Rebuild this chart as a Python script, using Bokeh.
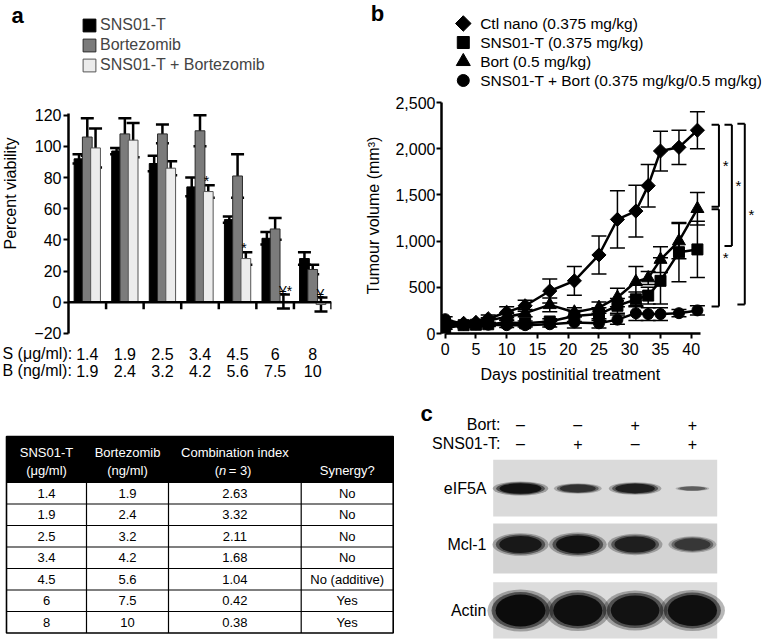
import math
import numpy as np
from bokeh.plotting import figure
from bokeh.models import (Range1d, FixedTicker, Span, Whisker, TeeHead, ColumnDataSource,
                          Legend, LegendItem, Title, NumeralTickFormatter)
from bokeh.layouts import column, row
from bokeh.core.properties import value
from bokeh.embed import file_html
from bokeh.resources import INLINE

FONT = "Liberation Sans"

# ---------------- Panel a data ----------------
s_conc = ["1.4", "1.9", "2.5", "3.4", "4.5", "6", "8"]
b_conc = ["1.9", "2.4", "3.2", "4.2", "5.6", "7.5", "10"]
bar_series = ["SNS01-T", "Bortezomib", "SNS01-T + Bortezomib"]
via_sns_mean = [92, 97, 89, 74, 53, 41, 28]
via_sns_err = [3, 2, 5, 6, 2, 4, 4]
via_bort_mean = [106, 108, 108, 110, 81, 47, 21]
via_bort_err = [12, 10, 6, 10, 14, 7, 3]
via_combo_mean = [99, 104, 86, 71, 28, 0.5, -1.5]
via_combo_err = [12.5, 11, 4.5, 4, 4, 4.5, 4.5]
combo_sig = ["", "", "", "*", "*", "\u00a5*", "\u00a5"]
a_yticks = [-20, 0, 20, 40, 60, 80, 100, 120]

# ---------------- Panel b data ----------------
days = [0, 3, 5, 7, 10, 13, 17, 21, 25, 28, 31, 33, 35, 38, 41]
line_series = ["Ctl nano (0.375 mg/kg)", "SNS01-T (0.375 mg/kg)", "Bort (0.5 mg/kg)",
               "SNS01-T + Bort (0.375 mg/kg/0.5 mg/kg)"]
ctl_vol = [120, 110, 120, 160, 230, 300, 460, 570, 850, 1235, 1325, 1600, 1975, 2015, 2200]
ctl_vol_err = [20, 15, 20, 40, 60, 60, 130, 155, 205, 310, 280, 230, 215, 185, 200]
sns_vol = [60, 90, 95, 100, 120, 110, 130, 190, 210, 300, 370, 410, 570, 880, 910]
sns_vol_err = [15, 15, 15, 20, 25, 25, 30, 60, 70, 80, 80, 90, 250, 320, 305]
bort_vol = [90, 100, 110, 140, 180, 220, 310, 230, 280, 390, 560, 600, 800, 1000, 1350]
bort_vol_err = [15, 15, 20, 30, 40, 40, 75, 50, 60, 100, 165, 70, 140, 190, 175]
combo_vol = [155, 100, 100, 95, 90, 90, 100, 120, 110, 150, 220, 210, 210, 220, 250]
combo_vol_err = [25, 20, 20, 20, 25, 20, 30, 60, 50, 50, 80, 70, 70, 40, 50]
b_xticks = [0, 5, 10, 15, 20, 25, 30, 35, 40]
b_yticks = [0, 500, 1000, 1500, 2000, 2500]
# significance brackets: (top value, bottom value)
bracket_top = [2260, 2260, 2270, 1345]
bracket_bottom = [1373, 946, 315, 293]
bracket_col = [0, 1, 2, 0]
bracket_text = ["*", "*", "*", "*"]

# ---------------- Table data ----------------
tbl_header = [["SNS01-T", "(\u03bcg/ml)"], ["Bortezomib", "(ng/ml)"], ["Combination index", None], ["", "Synergy?"]]
ci_values = ["2.63", "3.32", "2.11", "1.68", "1.04", "0.42", "0.38"]
synergy = ["No", "No", "No", "No", "No (additive)", "Yes", "Yes"]

# ---------------- Panel c data ----------------
lane_bort = ["\u2013", "\u2013", "+", "+"]
lane_sns = ["\u2013", "+", "\u2013", "+"]
proteins = ["eIF5A", "Mcl-1", "Actin"]
band_intensity = [[0.95, 0.70, 0.85, 0.35],
                  [0.90, 0.95, 0.85, 0.65],
                  [1.00, 0.97, 0.95, 0.97]]


def plain(p, hide_axes=False):
    p.grid.visible = False
    p.outline_line_color = None
    p.background_fill_color = "white"
    p.border_fill_color = "white"
    if hide_axes:
        p.axis.visible = False


def txt(p, x, y, t, size="16px", align="center", baseline="middle", color="black", style="normal", angle=0.0):
    p.text(x=x, y=y, text=t, text_font=value(FONT), text_font_size=size, text_align=align,
           text_baseline=baseline, text_color=color, text_font_style=style, angle=angle)


# =============== Panel a geometry (page pixels) =================
A_PX, A_W, A_H = 28, 334, 343          # main plot canvas
A_L, A_R, A_T, A_B = 40, 31, 3, 10
FR_A_LEFT = A_PX + A_L                  # 68
FR_A_TOP, FR_A_BOT = A_T, A_H - A_B     # 3 .. 333
ax0, ax1 = -0.5, 6.5
a_fx = (A_W - A_L - A_R) / (ax1 - ax0)
A_ZERO_Y = 301.7
a_fy = 1.5583
ay1 = (A_ZERO_Y - FR_A_TOP) / a_fy
ay0 = (A_ZERO_Y - FR_A_BOT) / a_fy


def a_x(px):
    return ax0 + (px - FR_A_LEFT) / a_fx


pa = figure(width=A_W, height=A_H, x_range=Range1d(ax0, ax1), y_range=Range1d(ay0, ay1),
            output_backend="svg", toolbar_location=None,
            min_border_left=A_L, min_border_right=A_R, min_border_top=A_T, min_border_bottom=A_B)
plain(pa)
pa.xaxis.visible = False
ya = pa.yaxis[0]
ya.ticker = FixedTicker(ticks=a_yticks)
ya.bounds = (-20, 121)
ya.major_label_overrides = {-20: "\u221220"}
ya.axis_line_width = 2.5
ya.major_tick_line_width = 2
ya.major_tick_out = 5
ya.major_tick_in = 0
ya.minor_tick_line_color = None
ya.major_label_standoff = 2
ya.major_label_text_font = FONT
ya.major_label_text_font_size = "16px"
ya.major_label_text_color = "black"

idx = np.arange(len(s_conc))
offsets = [-0.22, 0.0, 0.22]
fills = ["black", "#7b7b7b", "#ececec"]
outl = ["black", "#2a2a2a", "#555555"]
means = [via_sns_mean, via_bort_mean, via_combo_mean]
errs = [via_sns_err, via_bort_err, via_combo_err]
bar_r = []
for k in range(3):
    r = pa.vbar(x=idx + offsets[k], top=means[k], bottom=0, width=0.26,
                fill_color=fills[k], line_color=outl[k], line_width=1)
    bar_r.append(r)
for k in range(3):
    m = np.array(means[k], dtype=float)
    e = np.array(errs[k], dtype=float)
    src = ColumnDataSource(dict(x=idx + offsets[k], upper=m + e, lower=m - e))
    pa.add_layout(Whisker(source=src, base="x", upper="upper", lower="lower",
                          line_width=2.5, line_color="black",
                          upper_head=TeeHead(size=13, line_width=2.5, line_color="black"),
                          lower_head=TeeHead(size=13, line_width=2.5, line_color="black")))

pa.add_layout(Span(location=0, dimension="width", line_color="black", line_width=2.5))
pa.segment(x0=idx + 0.5, x1=idx + 0.5, y0=0, y1=-4.5, line_color="black", line_width=2.5)

sig_y = np.array(via_combo_mean, dtype=float) + np.array(via_combo_err, dtype=float) + 2.5
txt(pa, idx + offsets[2] - 0.12, sig_y, combo_sig, size="14px", align="left", baseline="alphabetic")

leg_a = Legend(items=[LegendItem(label=bar_series[k], renderers=[bar_r[k]]) for k in range(3)],
               location="top_left", margin=13, padding=0, spacing=2,
               glyph_width=16, glyph_height=16, label_height=16, label_standoff=3,
               label_text_font=FONT, label_text_font_size="16px",
               border_line_color=None, background_fill_alpha=0)
pa.add_layout(leg_a)

# strip left of panel a: panel letter and y title (page-pixel coordinates)
sa = figure(width=A_PX, height=A_H, x_range=Range1d(0, A_PX), y_range=Range1d(FR_A_BOT, FR_A_TOP),
            output_backend="svg", toolbar_location=None,
            min_border_left=0, min_border_right=0, min_border_top=A_T, min_border_bottom=A_B)
plain(sa, hide_axes=True)
txt(sa, [17], [15], ["a"], size="22px", style="bold")
txt(sa, [10], [193], ["Percent viability"], angle=math.pi / 2)

# footer under panel a: concentration rows
F_H = 400 - A_H
fa = figure(width=A_PX + A_W, height=F_H, x_range=Range1d(a_x(0), a_x(A_PX + A_W)),
            y_range=Range1d(400, A_H), output_backend="svg", toolbar_location=None, min_border=0)
plain(fa, hide_axes=True)
txt(fa, [a_x(2)], [353], ["S (\u03bcg/ml):"], align="left")
txt(fa, [a_x(2)], [370], ["B (ng/ml):"], align="left")
txt(fa, idx, [353] * len(idx), s_conc)
txt(fa, idx, [370] * len(idx), b_conc)

# =============== Panel b =================
SB_PX, SB_W = A_PX + A_W, 30             # strip 362..392
B_PX = SB_PX + SB_W                      # 392
B_W, B_H = 765 - B_PX, 400
B_L, B_R, B_T, B_B = 46, 4, 3, 67
FR_B_LEFT = B_PX + B_L                   # 438
FR_B_TOP, FR_B_BOT = B_T, B_H - B_B      # 3 .. 333
b_fx = 6.21
b_fy = 0.0924
bx0 = -(441.7 - FR_B_LEFT) / b_fx
bx1 = bx0 + (B_W - B_L - B_R) / b_fx
by0 = 0
by1 = (FR_B_BOT - FR_B_TOP) / b_fy


def b_x(px):
    return bx0 + (px - FR_B_LEFT) / b_fx


def b_y(py):
    return (FR_B_BOT - py) / b_fy


pb = figure(width=B_W, height=B_H, x_range=Range1d(bx0, bx1), y_range=Range1d(by0, by1),
            output_backend="svg", toolbar_location=None,
            min_border_left=B_L, min_border_right=B_R, min_border_top=B_T, min_border_bottom=B_B)
plain(pb)
xb = pb.xaxis[0]
yb = pb.yaxis[0]
yb.bounds = (0, 2500)
xb.bounds = (0, 41.5)
xb.ticker = FixedTicker(ticks=b_xticks)
yb.ticker = FixedTicker(ticks=b_yticks)
yb.formatter = NumeralTickFormatter(format="0,0")
for ax in (xb, yb):
    ax.axis_line_width = 2.5
    ax.major_tick_line_width = 2
    ax.major_tick_out = 5
    ax.major_tick_in = 0
    ax.minor_tick_line_color = None
    ax.major_label_text_font = FONT
    ax.major_label_text_font_size = "16px"
    ax.major_label_text_color = "black"
yb.major_label_standoff = 1
xb.major_label_standoff = 4

vols = [ctl_vol, sns_vol, bort_vol, combo_vol]
verrs = [ctl_vol_err, sns_vol_err, bort_vol_err, combo_vol_err]
markers = ["square", "square", "triangle", "circle"]
angles = [math.pi / 4, 0, 0, 0]
msizes = [10, 11, 13, 11]
for k in range(4):
    v = np.array(vols[k], dtype=float)
    e = np.array(verrs[k], dtype=float)
    src = ColumnDataSource(dict(x=days, upper=v + e, lower=v - e))
    pb.add_layout(Whisker(source=src, base="x", upper="upper", lower="lower",
                          line_width=1.5, line_color="black",
                          upper_head=TeeHead(size=15, line_width=1.5, line_color="black"),
                          lower_head=TeeHead(size=15, line_width=1.5, line_color="black")))
for k in range(4):
    pb.line(days, vols[k], line_color="black", line_width=2.5)
for k in range(4):
    pb.scatter(days, vols[k], marker=markers[k], size=msizes[k], angle=angles[k],
               fill_color="black", line_color="black")

# legend (marker key + label), drawn inside the frame above the curves
leg_rows = [23 + 19 * k for k in range(len(line_series))]
for k in range(len(line_series)):
    pb.scatter([b_x(460)], [b_y(leg_rows[k])], marker=markers[k], size=msizes[k] + 1, angle=angles[k],
               fill_color="black", line_color="black")
txt(pb, [b_x(477)] * len(line_series), [b_y(r) for r in leg_rows], line_series, size="15.5px", align="left")

br_right = [44.5 + 2.1 * c for c in bracket_col]
br_left = [x - 1.2 for x in br_right]
pb.segment(x0=br_right, x1=br_right, y0=bracket_bottom, y1=bracket_top, line_color="black", line_width=2)
pb.segment(x0=br_left, x1=br_right, y0=bracket_top, y1=bracket_top, line_color="black", line_width=2)
pb.segment(x0=br_left, x1=br_right, y0=bracket_bottom, y1=bracket_bottom, line_color="black", line_width=2)
txt(pb, [x + 0.6 for x in br_right], [(t + b) / 2 for t, b in zip(bracket_top, bracket_bottom)],
    bracket_text, size="15px", align="left")

pb.add_layout(Title(text="Days postinitial treatment", align="left", offset=477 - FR_B_LEFT,
                    standoff=12, text_font=FONT, text_font_size="16px", text_font_style="normal",
                    text_color="black"), "below")

sb = figure(width=SB_W, height=B_H, x_range=Range1d(SB_PX, B_PX), y_range=Range1d(FR_B_BOT, FR_B_TOP),
            output_backend="svg", toolbar_location=None,
            min_border_left=0, min_border_right=0, min_border_top=B_T, min_border_bottom=B_B)
plain(sb, hide_axes=True)
txt(sb, [377], [13], ["b"], size="22px", style="bold")
txt(sb, [373], [215], ["Tumour volume (mm\u00b3)"], angle=math.pi / 2)

# =============== Table =================
T_W, T_H = 405, 241
pt = figure(width=T_W, height=T_H, x_range=Range1d(0, T_W), y_range=Range1d(T_H, 0),
            output_backend="svg", toolbar_location=None, min_border=0)
plain(pt, hide_axes=True)
col_edges = [6, 86, 168, 300.7, 392.7]
t_top, t_head, row_h = 36, 82, 21.5
n_rows = len(ci_values)
t_bottom = t_head + n_rows * row_h
centers = [(col_edges[i] + col_edges[i + 1]) / 2 for i in range(4)]

pt.quad(left=col_edges[0], right=col_edges[-1], top=t_top, bottom=t_head,
        fill_color="black", line_color="black")
hy = [t_head + i * row_h for i in range(1, n_rows)]
pt.segment(x0=[col_edges[0]] * len(hy), x1=[col_edges[-1]] * len(hy), y0=hy, y1=hy,
           line_color="black", line_width=1.2)
pt.segment(x0=col_edges[1:-1], x1=col_edges[1:-1], y0=[t_head] * 3, y1=[t_bottom] * 3,
           line_color="black", line_width=1.2)
pt.quad(left=col_edges[0], right=col_edges[-1], top=t_top, bottom=t_bottom,
        fill_color=None, line_color="black", line_width=1.6)

head1 = t_top + 0.34 * (t_head - t_top)
head2 = t_top + 0.74 * (t_head - t_top)
for c in range(4):
    l1, l2 = tbl_header[c]
    if l1:
        txt(pt, [centers[c]], [head1], [l1], size="13px", color="white")
    if l2:
        txt(pt, [centers[c]], [head2], [l2], size="13px", color="white")
fs = 13
w_open, w_n, w_rest = 0.333 * fs, 0.556 * fs + 2.5, 2.029 * fs
x_start = centers[2] - (w_open + w_n + w_rest) / 2
txt(pt, [x_start], [head2], ["("], size="13px", align="left", color="white")
txt(pt, [x_start + w_open], [head2], ["n"], size="13px", align="left", color="white", style="italic")
txt(pt, [x_start + w_open + w_n], [head2], ["= 3)"], size="13px", align="left", color="white")

row_y = [t_head + (i + 0.5) * row_h for i in range(n_rows)]
for c, vals in enumerate([s_conc, b_conc, ci_values, synergy]):
    txt(pt, [centers[c]] * n_rows, row_y, vals, size="13px")

# =============== Panel c (western blot) =================
C_W, C_H = 765 - T_W, 241
lane_dx = 57.3
lane0_px = 520 - T_W
cx0 = -lane0_px / lane_dx
cx1 = cx0 + C_W / lane_dx


def c_x(px):
    return cx0 + px / lane_dx


pc = figure(width=C_W, height=C_H, x_range=Range1d(cx0, cx1), y_range=Range1d(C_H, 0),
            output_backend="svg", toolbar_location=None, min_border=0)
plain(pc, hide_axes=True)
lanes = np.arange(len(lane_bort))
strip_top = [59.3, 123, 181.7]
strip_bot = [116, 173, 238]
band_y = [88, 144, 210]
w_base = [50, 52, 58]
h_base = [13, 22, 37]
strip_col = ["#dadada", "#d3d3d3", "#dcdcdc"]
pc.quad(left=c_x(87.7), right=c_x(311.7), top=strip_top, bottom=strip_bot,
        fill_color=strip_col, line_color=None)
layers = [(1.14, 0.3), (1.0, 0.55), (0.86, 1.0)]
for p_i in range(len(proteins)):
    inten = np.array(band_intensity[p_i])
    w = w_base[p_i] * np.sqrt(inten) / lane_dx
    h = h_base[p_i] * inten
    cols = ["#%02x%02x%02x" % ((g,) * 3) for g in (12 + 125 * (1 - inten)).astype(int)]
    for sc, al in layers:
        pc.ellipse(x=lanes, y=[band_y[p_i]] * len(lanes), width=w * sc, height=h * sc,
                   fill_color=cols, fill_alpha=al, line_color=None)

txt(pc, [c_x(95)], [24], ["Bort:"], align="right")
txt(pc, [c_x(95)], [43], ["SNS01-T:"], align="right")
txt(pc, lanes, [24] * 4, lane_bort)
txt(pc, lanes, [43] * 4, lane_sns)
txt(pc, [c_x(81)] * 3, band_y, proteins, align="right")
txt(pc, [c_x(21)], [13], ["c"], size="22px", style="bold")

col_a = column(row(sa, pa), fa)
top = row(col_a, sb, pb)
bottom = row(pt, pc)
root = column(top, bottom)

open("out.html", "w").write(file_html(root, INLINE))
